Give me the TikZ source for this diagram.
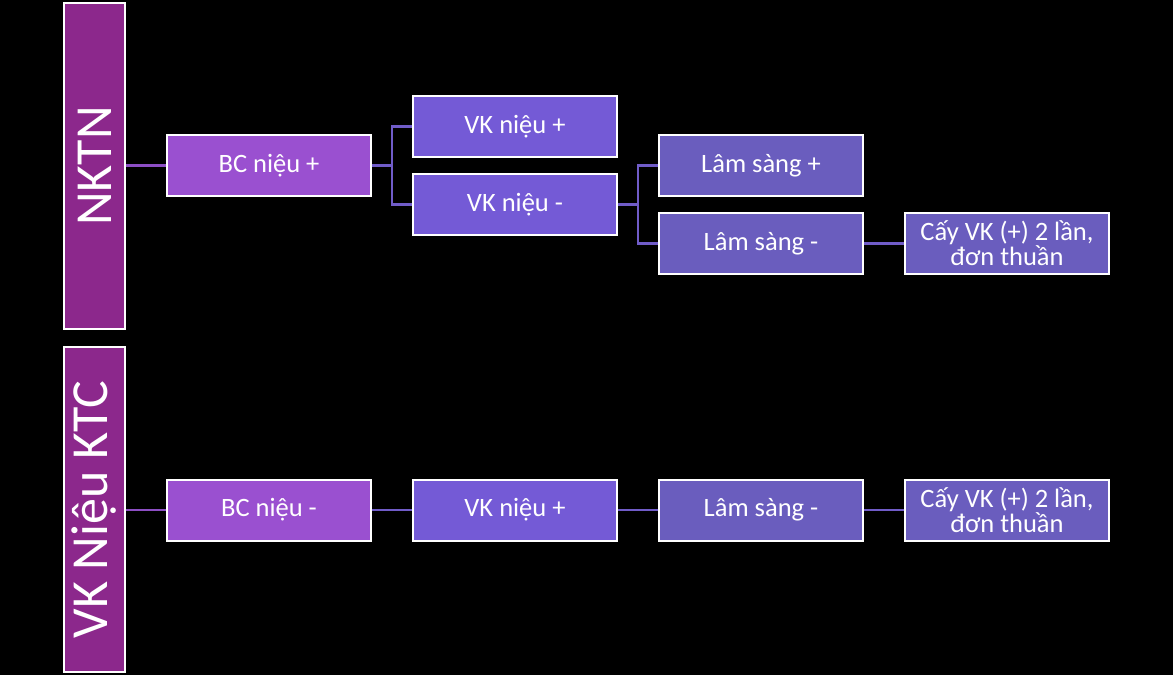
\documentclass[tikz,border=0pt]{standalone}
\usepackage{fontspec}
\setmainfont{Carlito}
\usetikzlibrary{positioning}
\definecolor{barpurple}{RGB}{140,40,140}
\definecolor{bcpurple}{RGB}{154,80,208}
\definecolor{vkpurple}{RGB}{116,90,214}
\definecolor{lspurple}{RGB}{106,93,190}
\definecolor{linepurple}{RGB}{112,92,200}
\definecolor{barline}{RGB}{140,78,196}
\tikzset{
  bar/.style={draw=white, line width=2pt, fill=barpurple, rectangle, minimum height=61pt, text=white, font=\fontsize{52}{52}\selectfont, rotate=90, inner sep=0pt},
  box/.style={draw=white, line width=2pt, rectangle, minimum height=61pt, minimum width=204pt, align=center, text=white, font=\fontsize{26.5}{24}\selectfont, inner sep=1pt},
  bcbox/.style={box, fill=bcpurple},
  vkbox/.style={box, fill=vkpurple},
  lsbox/.style={box, fill=lspurple},
  conn/.style={draw=linepurple, line width=2.5pt},
}
\begin{document}
\begin{tikzpicture}[x=1pt, y=-1pt, node distance=40pt]
\fill[black] (0,0) rectangle (1173,675);
\useasboundingbox (0,0) rectangle (1173,675);

% left bars
\node[bar, minimum width=326pt] (nktn) at (94.5,166) {NKTN};
\node[bar, minimum width=325pt] (ktc) at (94.5,509.5) {VK Niệu KTC};

% upper branch
\node[bcbox] (bcp) at (269,165.5) {BC niệu +};
\node[vkbox, right=of bcp, yshift=39pt] (vkp) {VK niệu +};
\node[vkbox, right=of bcp, yshift=-39pt] (vkm) {VK niệu -};
\node[lsbox, right=of vkm, yshift=39pt] (lsp) {Lâm sàng +};
\node[lsbox, right=of vkm, yshift=-39pt] (lsm) {Lâm sàng -};
\node[lsbox, right=of lsm] (cay) {Cấy VK (+) 2 lần,\\đơn thuần};

% lower chain
\node[bcbox] (bcm) at (269,510) {BC niệu -};
\node[vkbox, right=of bcm] (vkp2) {VK niệu +};
\node[lsbox, right=of vkp2] (lsm2) {Lâm sàng -};
\node[lsbox, right=of lsm2] (cay2) {Cấy VK (+) 2 lần,\\đơn thuần};

\draw[conn, draw=barline] (nktn.south |- bcp.west) -- (bcp.west);
\draw[conn] (bcp.east) -- ++(20,0) |- (vkp.west);
\draw[conn] (bcp.east) -- ++(20,0) |- (vkm.west);
\draw[conn] (vkm.east) -- ++(20,0) |- (lsp.west);
\draw[conn] (vkm.east) -- ++(20,0) |- (lsm.west);
\draw[conn] (lsm) -- (cay);

\draw[conn, draw=barline] (ktc.south |- bcm.west) -- (bcm.west);
\draw[conn] (bcm) -- (vkp2);
\draw[conn] (vkp2) -- (lsm2);
\draw[conn] (lsm2) -- (cay2);

\end{tikzpicture}
\end{document}
